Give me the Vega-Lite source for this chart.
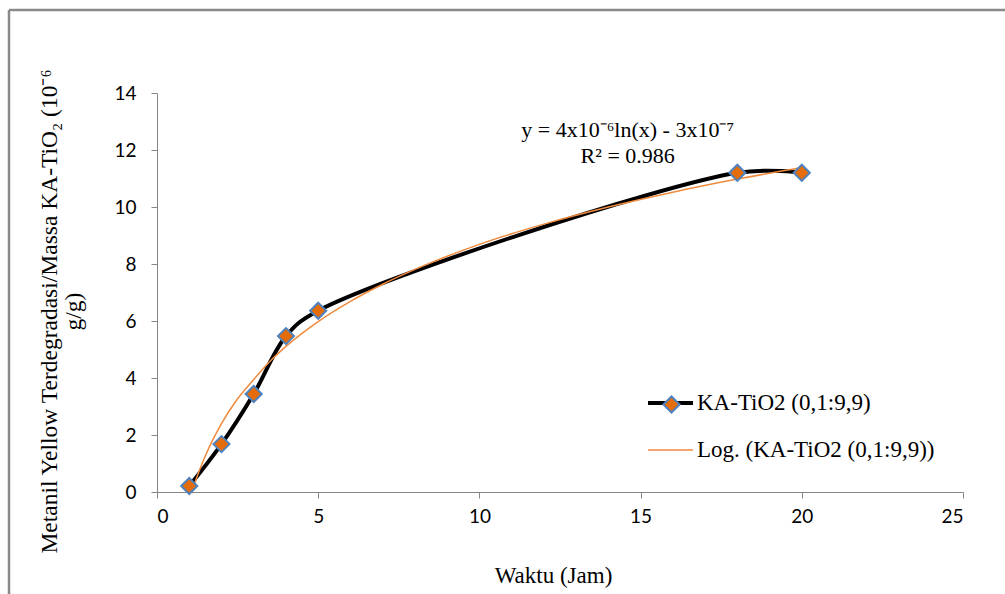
{
  "$schema": "https://vega.github.io/schema/vega-lite/v6.json",
  "autosize": {"type": "none"},
  "padding": {"left": 9, "top": 10, "right": 0, "bottom": 0},
  "width": 996,
  "height": 584,
  "background": "white",
  "config": {
    "view": {"stroke": "#8a8a8a", "strokeWidth": 2.5, "strokeDash": [996, 1580, 584, 0]},
    "axis": {
      "grid": false,
      "domainColor": "#868686",
      "tickColor": "#868686",
      "tickSize": 6,
      "labelFont": "Lato",
      "labelFontSize": 19,
      "labelColor": "#000000",
      "titleFont": "Liberation Serif",
      "titleFontWeight": "normal",
      "titleColor": "#000000"
    }
  },
  "datasets": {
    "obs": [
      {"x": 1, "y": 0.21, "series": "KA-TiO2 (0,1:9,9)"},
      {"x": 2, "y": 1.68, "series": "KA-TiO2 (0,1:9,9)"},
      {"x": 3, "y": 3.44, "series": "KA-TiO2 (0,1:9,9)"},
      {"x": 4, "y": 5.47, "series": "KA-TiO2 (0,1:9,9)"},
      {"x": 5, "y": 6.36, "series": "KA-TiO2 (0,1:9,9)"},
      {"x": 18, "y": 11.2, "series": "KA-TiO2 (0,1:9,9)"},
      {"x": 20, "y": 11.2, "series": "KA-TiO2 (0,1:9,9)"}
    ],
    "trend": [
      {"x": 1.08, "y": 0.0, "series": "Log. (KA-TiO2 (0,1:9,9))"},
      {"x": 1.25, "y": 0.56, "series": "Log. (KA-TiO2 (0,1:9,9))"},
      {"x": 1.5, "y": 1.27, "series": "Log. (KA-TiO2 (0,1:9,9))"},
      {"x": 2, "y": 2.4, "series": "Log. (KA-TiO2 (0,1:9,9))"},
      {"x": 2.5, "y": 3.27, "series": "Log. (KA-TiO2 (0,1:9,9))"},
      {"x": 3, "y": 3.95, "series": "Log. (KA-TiO2 (0,1:9,9))"},
      {"x": 3.5, "y": 4.58, "series": "Log. (KA-TiO2 (0,1:9,9))"},
      {"x": 4, "y": 5.11, "series": "Log. (KA-TiO2 (0,1:9,9))"},
      {"x": 5, "y": 5.98, "series": "Log. (KA-TiO2 (0,1:9,9))"},
      {"x": 6, "y": 6.69, "series": "Log. (KA-TiO2 (0,1:9,9))"},
      {"x": 7, "y": 7.29, "series": "Log. (KA-TiO2 (0,1:9,9))"},
      {"x": 8, "y": 7.81, "series": "Log. (KA-TiO2 (0,1:9,9))"},
      {"x": 10, "y": 8.69, "series": "Log. (KA-TiO2 (0,1:9,9))"},
      {"x": 12, "y": 9.4, "series": "Log. (KA-TiO2 (0,1:9,9))"},
      {"x": 14, "y": 10.0, "series": "Log. (KA-TiO2 (0,1:9,9))"},
      {"x": 16, "y": 10.52, "series": "Log. (KA-TiO2 (0,1:9,9))"},
      {"x": 18, "y": 10.98, "series": "Log. (KA-TiO2 (0,1:9,9))"},
      {"x": 20, "y": 11.39, "series": "Log. (KA-TiO2 (0,1:9,9))"}
    ],
    "notes": [
      {"x": 14.6, "y": 12.47, "label": "y = 4x10⁻⁶ln(x) - 3x10⁻⁷"},
      {"x": 14.6, "y": 11.56, "label": "R² = 0.986"}
    ]
  },
  "layer": [
    {
      "data": {"name": "obs"},
      "mark": {"type": "line", "interpolate": "catmull-rom", "strokeWidth": 4},
      "encoding": {
        "x": {
          "field": "x", "type": "quantitative",
          "scale": {"domain": [0, 25], "range": [148, 954], "nice": false, "zero": false},
          "axis": {
            "values": [0, 5, 10, 15, 20, 25],
            "orient": "bottom",
            "offset": -102,
            "labelPadding": 9,
            "title": "Waktu (Jam)",
            "titleFontSize": 23,
            "titleX": 544,
            "titleY": 90,
            "titleAnchor": null,
            "titleAlign": "center",
            "titleBaseline": "alphabetic"
          }
        },
        "y": {
          "field": "y", "type": "quantitative",
          "scale": {"domain": [0, 14], "range": [482, 83], "nice": false},
          "axis": {
            "values": [0, 2, 4, 6, 8, 10, 12, 14],
            "orient": "left",
            "offset": -148,
            "labelPadding": 15,
            "title": ["Metanil Yellow Terdegradasi/Massa KA-TiO₂ (10⁻⁶", "g/g)"],
            "titleFontSize": 23.5,
            "titleLineHeight": 24,
            "titleAngle": 270,
            "titleX": -108,
            "titleY": 301,
            "titleAlign": "center",
            "titleBaseline": "middle"
          }
        },
        "color": {
          "field": "series", "type": "nominal",
          "scale": {"domain": ["KA-TiO2 (0,1:9,9)", "Log. (KA-TiO2 (0,1:9,9))"], "range": ["#000000", "#F08A3C"]},
          "legend": {
            "orient": "none",
            "legendX": 639,
            "legendY": 381.5,
            "title": null,
            "padding": 0,
            "symbolType": "stroke",
            "symbolSize": 2025,
            "labelFont": "Liberation Serif",
            "labelFontSize": 23,
            "labelColor": "#000000",
            "labelOffset": 5,
            "labelLimit": 400,
            "rowPadding": 23,
            "encode": {
              "symbols": {"update": {
                "strokeWidth": {"signal": "datum.index === 0 ? 4 : 1.5"},
                "size": {"value": 2025},
                "x": {"value": 22.5}
              }},
              "labels": {"update": {"x": {"value": 49}}}
            }
          }
        }
      }
    },
    {
      "data": {"name": "trend"},
      "mark": {"type": "line", "interpolate": "monotone", "strokeWidth": 1.5, "clip": true},
      "encoding": {
        "x": {"field": "x", "type": "quantitative"},
        "y": {"field": "y", "type": "quantitative"},
        "color": {"field": "series", "type": "nominal"}
      }
    },
    {
      "data": {"name": "obs"},
      "mark": {"type": "point", "shape": "diamond", "filled": true, "size": 260, "stroke": "#4F81BD", "strokeWidth": 2, "opacity": 1},
      "encoding": {
        "x": {"field": "x", "type": "quantitative"},
        "y": {"field": "y", "type": "quantitative"},
        "fill": {
          "field": "series", "type": "nominal",
          "scale": {"domain": ["KA-TiO2 (0,1:9,9)"], "range": ["#E46C0A"]},
          "legend": {
            "orient": "none",
            "legendX": 653,
            "legendY": 385,
            "title": null,
            "padding": 0,
            "symbolType": "diamond",
            "symbolSize": 260,
            "symbolStrokeColor": "#4F81BD",
            "symbolStrokeWidth": 2,
            "symbolOpacity": 1,
            "labelExpr": "''",
            "labelFontSize": 1
          }
        }
      }
    },
    {
      "data": {"name": "notes"},
      "mark": {"type": "text", "font": "Liberation Serif", "fontSize": 22, "align": "center", "baseline": "alphabetic", "color": "#000000"},
      "encoding": {
        "x": {"field": "x", "type": "quantitative"},
        "y": {"field": "y", "type": "quantitative"},
        "text": {"field": "label"}
      }
    }
  ]
}
